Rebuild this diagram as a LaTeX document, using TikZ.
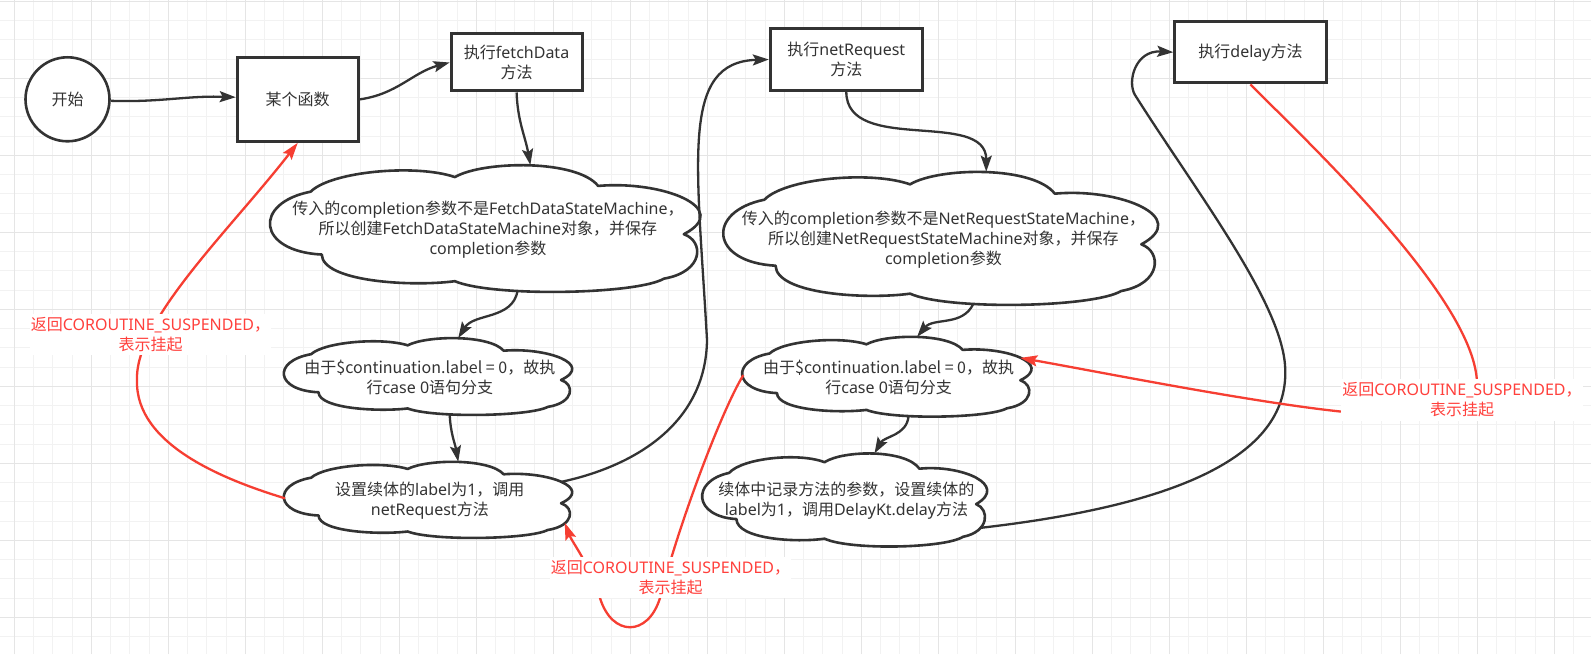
\documentclass[tikz,border=0pt]{standalone}
\usepackage{fontspec}
\usepackage{tikz}
\usetikzlibrary{arrows.meta}
\setmainfont{Noto Sans}
\newfontfamily\latinfont{Noto Sans}
\newfontfamily\cjkfont{Noto Sans CJK SC}
\XeTeXinterchartokenstate=1
\newXeTeXintercharclass\CJKclass
\count255="3000
\loop
  \XeTeXcharclass\count255=\CJKclass
  \advance\count255 by 1
\ifnum\count255<"A000 \repeat
\XeTeXcharclass"FF0C=\CJKclass
\XeTeXinterchartoks 0 \CJKclass={\cjkfont}
\XeTeXinterchartoks 4095 \CJKclass={\cjkfont}
\XeTeXinterchartoks \CJKclass 0={\latinfont}
\definecolor{dark}{HTML}{333333}
\definecolor{redline}{RGB}{246,62,50}
\definecolor{redtext}{RGB}{255,64,60}
\definecolor{gridlight}{HTML}{F2F2F2}
\definecolor{griddark}{HTML}{E5E5E5}
\newcommand{\Cloud}[6]{%
  \begin{scope}[shift={(#2,#3)}, xscale=#4, yscale=-#5]
    \path[cloudline] (0.092,0.21) .. controls (0.14,0.05) and (0.34,-0.01) .. (0.432,0.095)
      .. controls (0.5,-0.035) and (0.72,-0.045) .. (0.77,0.165)
      .. controls (0.92,0.12) and (1.09,0.34) .. (0.972,0.545)
      .. controls (1.02,0.6) and (1.02,0.84) .. (0.925,0.895)
      .. controls (0.86,1.02) and (0.52,1.04) .. (0.432,0.915)
      .. controls (0.33,0.96) and (0.12,0.92) .. (0.118,0.705)
      .. controls (-0.035,0.68) and (-0.045,0.3) .. (0.092,0.21) -- cycle;
    \coordinate (#1-n) at (0.61,0);
    \coordinate (#1-s) at (0.58,0.99);
    \coordinate (#1-w) at (0,0.48);
    \coordinate (#1-e) at (0.972,0.265);
    \coordinate (#1-se) at (0.985,0.8);
    \node[cloudtext] (#1) at (0.51,0.51) {#6};
  \end{scope}}

\begin{document}
\begin{tikzpicture}[x=1pt, y=1pt, font=\fontsize{16}{20}\selectfont,
    box/.style={draw=dark, line width=3pt, fill=white, text=dark, align=center, inner sep=0pt},
    cloudline/.style={draw=dark, line width=2.6pt, fill=white, line join=round},
    cloudtext/.style={text=dark, align=center, inner sep=0pt},
    conn/.style={draw=dark, line width=2.3pt, -{Stealth[length=16pt, width=11pt, inset=3pt]}},
    back/.style={draw=redline, line width=2.3pt, -{Stealth[length=17pt, width=11pt, inset=3pt]}},
    note/.style={fill=white, text=redtext, align=center, inner xsep=1pt, inner ysep=3.5pt},
    gridminor/.style={draw=gridlight, line width=1pt},
    gridmajor/.style={draw=griddark, line width=1.3pt}]
    \useasboundingbox (0,0) rectangle (1591,654);
    \fill[white] (0,0) rectangle (1591,654);
    \begin{scope}[shift={(14.3,36.7)}]
        \draw[gridminor, xstep=19.25pt, ystep=19.25pt] (-14.3,-36.7) grid (1576.7,617.3);
        \draw[gridmajor, xstep=77pt, ystep=77pt] (-14.3,-36.7) grid (1576.7,617.3);
    \end{scope}
    \Cloud{c1}{271.7}{489}{424}{127}{传入的completion参数不是FetchDataStateMachine，\\所以创建FetchDataStateMachine对象，并保存\\completion参数}
    \Cloud{c2}{285}{316}{284}{77}{由于\$continuation.label = 0，故执\\行case 0语句分支}
    \Cloud{c3}{285}{192.3}{284}{76.3}{设置续体的label为1，调用\\netRequest方法}
    \Cloud{c4}{725}{482.3}{428.3}{133.3}{传入的completion参数不是NetRequestStateMachine，\\所以创建NetRequestStateMachine对象，并保存\\completion参数}
    \Cloud{c5}{743.3}{317.3}{285}{80}{由于\$continuation.label = 0，故执\\行case 0语句分支}
    \Cloud{c6}{703.3}{200.7}{280.7}{93.3}{续体中记录方法的参数，设置续体的\\label为1，调用DelayKt.delay方法}
    \node[circle, draw=dark, line width=2.6pt, fill=white, text=dark, minimum size=84pt, inner sep=0pt] (start) at (67.5,554.7) {开始};
    \node[box, minimum width=121pt, minimum height=84pt] (func) at (297.7,554.6) {某个函数};
    \node[box, minimum width=131pt, minimum height=57pt] (fetch) at (516.6,591.5) {执行fetchData\\方法};
    \node[box, minimum width=152pt, minimum height=61.5pt] (netreq) at (846.3,594.5) {执行netRequest\\方法};
    \node[box, minimum width=151.5pt, minimum height=61.5pt] (delay) at (1250.5,601.8) {执行delay方法};
    \draw[conn] (start) to[out=-2, in=178] (func);
    \draw[conn] (func.east) to[out=8, in=195] (fetch.west);
    \draw[conn] (fetch.south) to[out=-88, in=100] (c1-n);
    \draw[conn] (c1-s) to[out=-100, in=58] (c2-n);
    \draw[conn] (c2-s) to[out=-88, in=100] (c3-n);
    \draw[conn] (c3-e) .. controls (640,189) and (706,234) .. (707,314) .. controls (697,494) and (680,592) .. (netreq.west);
    \draw[conn] (netreq.south) to[out=-90, in=90] (c4-n);
    \draw[conn] (c4-s) to[out=-115, in=50] (c5-n);
    \draw[conn] (c5-s) to[out=-95, in=60] (c6-n);
    \draw[conn] (c6-se) .. controls (1180,149) and (1292,199) .. (1285,289) .. controls (1280,354) and (1195,464) .. (1135,559) .. controls (1127,572) and (1135,604) .. (delay.west);
    \draw[back] (c3-w) .. controls (225,174) and (135,209) .. (137,274) .. controls (135,334) and (230,424) .. (func.south);
    \draw[back] (c5-w) .. controls (722,244) and (680,134) .. (660,56) .. controls (648,17) and (612,17) .. (600,56) .. controls (590,89) and (572,112) .. (c3-se);
    \draw[back] (delay.south) .. controls (1300,519) and (1478,354) .. (1477,269) .. controls (1477,249) and (1400,239) .. (1342,242.3) .. controls (1250,252) and (1100,282) .. (c5-e);
    \node[note] (back1) at (150.5,319.5) {返回COROUTINE\_SUSPENDED，\\表示挂起};
    \node[note] (back3) at (670.5,76.5) {返回COROUTINE\_SUSPENDED，\\表示挂起};
    \node[note] (back2) at (1462,254) {返回COROUTINE\_SUSPENDED，\\表示挂起};
\end{tikzpicture}
\end{document}
